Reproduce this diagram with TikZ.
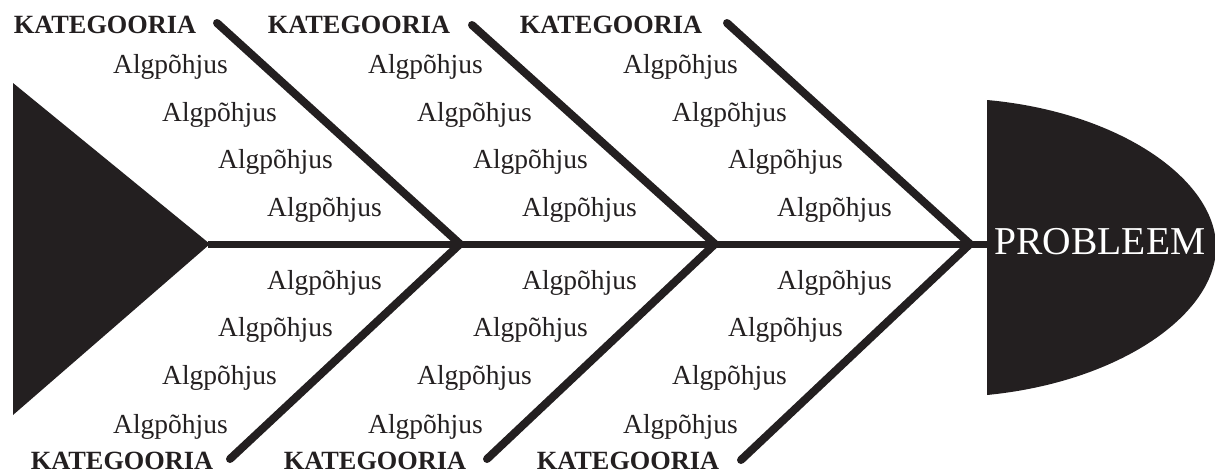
\documentclass[tikz,border=0pt]{standalone}
\usepackage{fontspec}
\setmainfont{Liberation Serif}
\definecolor{ink}{RGB}{35,31,32}
\begin{document}
\begin{tikzpicture}
  [x=1pt,y=-1pt,every node/.style={inner sep=0pt,text=ink}]
  \tikzstyle{bone} = [draw=ink,line width=8pt,line cap=round,line join=miter]
  \tikzstyle{spine} = [draw=ink,line width=7pt]
  \tikzstyle{cause} = [anchor=west,font=\fontsize{27.5}{30}\selectfont]
  \tikzstyle{cat} = [font=\bfseries\fontsize{26.3}{28}\selectfont]
  \useasboundingbox (0,0) rectangle (1215,474);
  % tail and head
  \fill[ink] (13,83) -- (210,244) -- (13,415) -- cycle;
  \fill[ink] (987,100) .. controls (1120,112) and (1216,180) .. (1216,247)
    .. controls (1216,314) and (1120,382) .. (987,395) -- cycle;
  \node[text=white,font=\fontsize{39.5}{42}\selectfont] (prob) at (1100,242) {PROBLEEM};
  % spine
  \coordinate (tail) at (208,244);
  \coordinate (head) at (988,244);
  \coordinate (j1) at (460,244);
  \coordinate (j2) at (715,244);
  \coordinate (j3) at (970,244);
  \coordinate (t1) at (217,23);
  \coordinate (t2) at (472,25);
  \coordinate (t3) at (727,23);
  \coordinate (b1) at (230,459);
  \coordinate (b2) at (487,459);
  \coordinate (b3) at (741,460);
  \draw[spine] (tail) -- (head);
  \foreach \n in {1,2,3}
    \draw[bone] (t\n) -- (j\n) -- (b\n);
  % categories
  \foreach \n/\xt/\xb in {1/105/122,2/359/375,3/611/628} {
    \node[cat] (ct\n) at (\xt,25) {KATEGOORIA};
    \node[cat] (cb\n) at (\xb,461) {KATEGOORIA};
  }
  % causes
  \foreach \n/\x in {1/113,2/368,3/623} {
    \node[cause] (a\n1) at (\x,67) {Algpõhjus};
    \node[cause] (a\n2) at (\x+49,115) {Algpõhjus};
    \node[cause] (a\n3) at (\x+105,162) {Algpõhjus};
    \node[cause] (a\n4) at (\x+154,210) {Algpõhjus};
    \node[cause] (d\n1) at (\x+154,283) {Algpõhjus};
    \node[cause] (d\n2) at (\x+105,330) {Algpõhjus};
    \node[cause] (d\n3) at (\x+49,378) {Algpõhjus};
    \node[cause] (d\n4) at (\x,427) {Algpõhjus};
  }
\end{tikzpicture}
\end{document}
